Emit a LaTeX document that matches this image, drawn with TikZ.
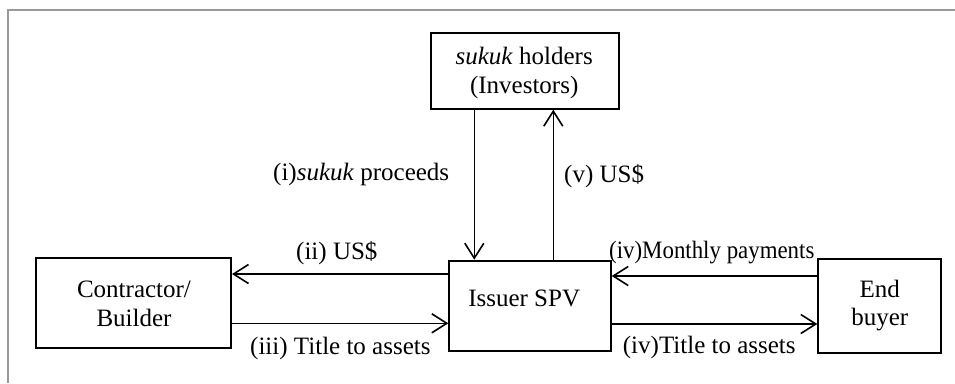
\documentclass[tikz,border=0pt]{standalone}
\usepackage{fontspec}
\setmainfont{Liberation Serif}
\usetikzlibrary{arrows.meta}
\begin{document}
\begin{tikzpicture}[x=1pt,y=-1pt,
  every node/.style={font=\fontsize{25}{28.5}\selectfont, inner sep=0pt},
  boxnode/.style={draw=black, line width=2pt, rectangle},
  txt/.style={anchor=base, align=center},
  lbl/.style={anchor=base west},
  arr/.style={line width=1.6pt, -{Straight Barb[length=15pt,width=19pt,line width=1.6pt]}},
  framel/.style={draw=black!40, line width=1.6pt}]
\useasboundingbox (0,0) rectangle (955,383);
\draw[framel] (8,383) -- (8,10) -- (955,10);

\node[boxnode, minimum width=188.3pt, minimum height=75.7pt] (sukuk) at (524.85,70.85) {};
\node[boxnode, minimum width=161.4pt, minimum height=90pt] (spv) at (530,305.7) {};
\node[boxnode, minimum width=195pt, minimum height=89.4pt] (contr) at (133.5,303) {};
\node[boxnode, minimum width=122.7pt, minimum height=94.6pt] (buyer) at (879.65,306) {};

\node[txt] (sukuktxt) at (524.2,93) {\textit{sukuk} holders\\(Investors)};
\node[txt] (spvtxt) at (524.2,306.7) {Issuer SPV};
\node[txt] (contrtxt) at (134,326.3) {Contractor/\\Builder};
\node[txt] (buyertxt) at (879.7,325.5) {End\\buyer};

\draw[arr] (sukuk.south -| 474.3,0) -- (spv.north -| 474.3,0);
\draw[arr] (spv.north -| 553.3,0) -- (sukuk.south -| 553.3,0);
\draw[arr] (spv.west |- 0,274) -- (contr.east |- 0,274);
\draw[arr] (contr.east |- 0,323.3) -- (spv.west |- 0,323.3);
\draw[arr] (buyer.west |- 0,276) -- (spv.east |- 0,276);
\draw[arr] (spv.east |- 0,324) -- (buyer.west |- 0,324);

\node[lbl] (l1) at (273,180) {(i)\textit{sukuk} proceeds};
\node[lbl] (l5) at (564,182) {(v) US\$};
\node[lbl] (l2) at (296,259.3) {(ii) US\$};
\node[lbl] (l3) at (250,354) {(iii) Title to assets};
\node[lbl] (l4a) at (609,258.3) {\scalebox{0.915}[1]{(iv)Monthly payments}};
\node[lbl] (l4b) at (622.7,353.3) {(iv)Title to assets};
\end{tikzpicture}
\end{document}
